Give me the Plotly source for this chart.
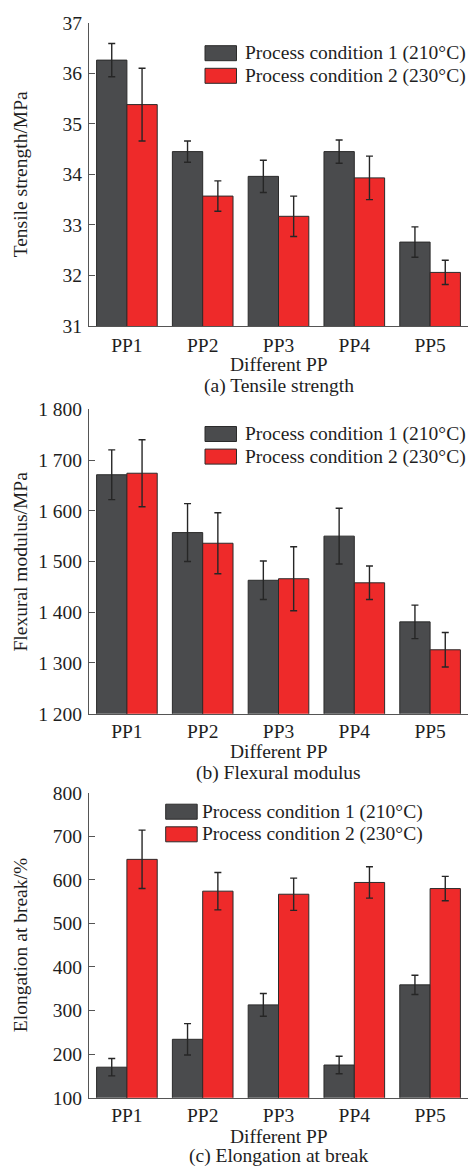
import plotly.graph_objects as go

W, H = 472, 1167

categories = ["PP1", "PP2", "PP3", "PP4", "PP5"]
series_names = ["Process condition 1 (210°C)", "Process condition 2 (230°C)"]

# (a) Tensile strength / MPa
ts_c1 = [36.26, 34.45, 33.96, 34.45, 32.66]
ts_c1_err = [0.33, 0.21, 0.32, 0.23, 0.30]
ts_c2 = [35.38, 33.57, 33.17, 33.93, 32.06]
ts_c2_err = [0.72, 0.30, 0.40, 0.43, 0.24]

# (b) Flexural modulus / MPa
fm_c1 = [1671, 1557, 1463, 1550, 1381]
fm_c1_err = [49, 57, 38, 55, 33]
fm_c2 = [1674, 1536, 1466, 1458, 1326]
fm_c2_err = [66, 60, 63, 33, 34]

# (c) Elongation at break / %
eb_c1 = [170, 234, 313, 175, 359]
eb_c1_err = [20, 36, 26, 20, 22]
eb_c2 = [647, 574, 567, 594, 580]
eb_c2_err = [67, 43, 37, 36, 28]

y_titles = ["Tensile strength/MPa", "Flexural modulus/MPa", "Elongation at break/%"]
x_title = "Different PP"
subtitles = ["(a) Tensile strength", "(b) Flexural modulus", "(c) Elongation at break"]

ticks_a = [31, 32, 33, 34, 35, 36, 37]
ticks_b = [1200, 1300, 1400, 1500, 1600, 1700, 1800]
ticks_b_text = ["1 200", "1 300", "1 400", "1 500", "1 600", "1 700", "1 800"]
ticks_c = [100, 200, 300, 400, 500, 600, 700, 800]

DARK = "#4a4b4d"
RED = "#ee2a2a"
EDGE = "#2b2b2b"
FONT = "Liberation Serif"
FS = 19.5
TXT = "#1e1e1e"


def px(x):
    return x / W


def py(y):
    return 1 - y / H


# plot-area pixel boxes (top, bottom)
panels = [(22.7, 326.0), (409.3, 713.7), (792.7, 1097.7)]
x_left, x_right = 89.0, 468.0

data_sets = [
    (ts_c1, ts_c1_err, ts_c2, ts_c2_err),
    (fm_c1, fm_c1_err, fm_c2, fm_c2_err),
    (eb_c1, eb_c1_err, eb_c2, eb_c2_err),
]

fig = go.Figure()
for i, (v1, e1, v2, e2) in enumerate(data_sets):
    sfx = "" if i == 0 else str(i + 1)
    for vals, errs, col, name in ((v1, e1, DARK, series_names[0]), (v2, e2, RED, series_names[1])):
        fig.add_trace(go.Bar(
            x=categories, y=vals, name=name, showlegend=False,
            marker=dict(color=col, line=dict(color=EDGE, width=1)),
            error_y=dict(type="data", array=errs, visible=True,
                         color="#262626", thickness=1.4, width=3.5),
            xaxis="x" + sfx, yaxis="y" + sfx,
        ))

layout = dict(
    width=W, height=H,
    margin=dict(l=0, r=0, t=0, b=0),
    paper_bgcolor="white", plot_bgcolor="white",
    barmode="group", bargap=0.2, bargroupgap=0,
    font=dict(family=FONT, size=FS, color=TXT),
    showlegend=False,
)

yranges = [[31, 37], [1200, 1800], [100, 800]]
ytv = [ticks_a, ticks_b, ticks_c]
ytt = [[str(t) for t in ticks_a], ticks_b_text, [str(t) for t in ticks_c]]

annotations = []
shapes = []
legend_px = [(205.0, 242.5, 53.2), (205.0, 242.5, 434.0), (165.7, 200.0, 811.7)]
xtitle_y = [364.0, 751.0, 1136.0]
sub_ys = [386.0, 772.5, 1156.0]
xtick_standoff = [1, 0, 0]

for i, (top, bot) in enumerate(panels):
    sfx = "" if i == 0 else str(i + 1)
    layout["xaxis" + sfx] = dict(
        domain=[px(x_left), px(x_right)], anchor="y" + sfx,
        range=[-0.5, 4.5], showline=True, linecolor="#555555", linewidth=1.2,
        ticks="", showgrid=False, zeroline=False,
        tickfont=dict(family=FONT, size=FS, color=TXT),
        ticklabelstandoff=xtick_standoff[i],
        automargin=False,
    )
    layout["yaxis" + sfx] = dict(
        domain=[py(bot), py(top)], anchor="x" + sfx,
        range=yranges[i], tickvals=ytv[i], ticktext=ytt[i],
        showline=True, linecolor="#555555", linewidth=1.2,
        ticks="inside", ticklen=6, tickcolor="#555555", tickwidth=1.2,
        showgrid=False, zeroline=False,
        tickfont=dict(family=FONT, size=FS, color=TXT),
        ticklabelstandoff=2,
        automargin=False,
    )
    # y-axis title
    annotations.append(dict(
        text=y_titles[i], xref="paper", yref="paper",
        x=px(20), y=py((top + bot) / 2), xanchor="center", yanchor="middle",
        textangle=-90, showarrow=False, font=dict(family=FONT, size=FS, color=TXT),
    ))
    # x-axis title
    annotations.append(dict(
        text=x_title, xref="paper", yref="paper",
        x=px((x_left + x_right) / 2), y=py(xtitle_y[i]), xanchor="center", yanchor="middle",
        showarrow=False, borderpad=0, font=dict(family=FONT, size=FS, color=TXT),
    ))
    # subtitle
    annotations.append(dict(
        text=subtitles[i], xref="paper", yref="paper",
        x=px((x_left + x_right) / 2), y=py(sub_ys[i]), xanchor="center", yanchor="middle",
        showarrow=False, borderpad=0, font=dict(family=FONT, size=FS, color=TXT),
    ))
    # legend
    bx, tx, cy = legend_px[i]
    for k, (col, name) in enumerate(((DARK, series_names[0]), (RED, series_names[1]))):
        yc = cy + k * 22.6
        shapes.append(dict(
            type="rect", xref="paper", yref="paper",
            x0=px(bx), x1=px(bx + 31.5), y0=py(yc + 7.5), y1=py(yc - 7.5),
            fillcolor=col, line=dict(color=EDGE, width=1),
        ))
        annotations.append(dict(
            text=name, xref="paper", yref="paper",
            x=px(tx), y=py(yc), xanchor="left", yanchor="middle",
            showarrow=False, font=dict(family=FONT, size=FS, color=TXT),
        ))

layout["annotations"] = annotations
layout["shapes"] = shapes
fig.update_layout(**layout)
fig.write_html("out.html")
